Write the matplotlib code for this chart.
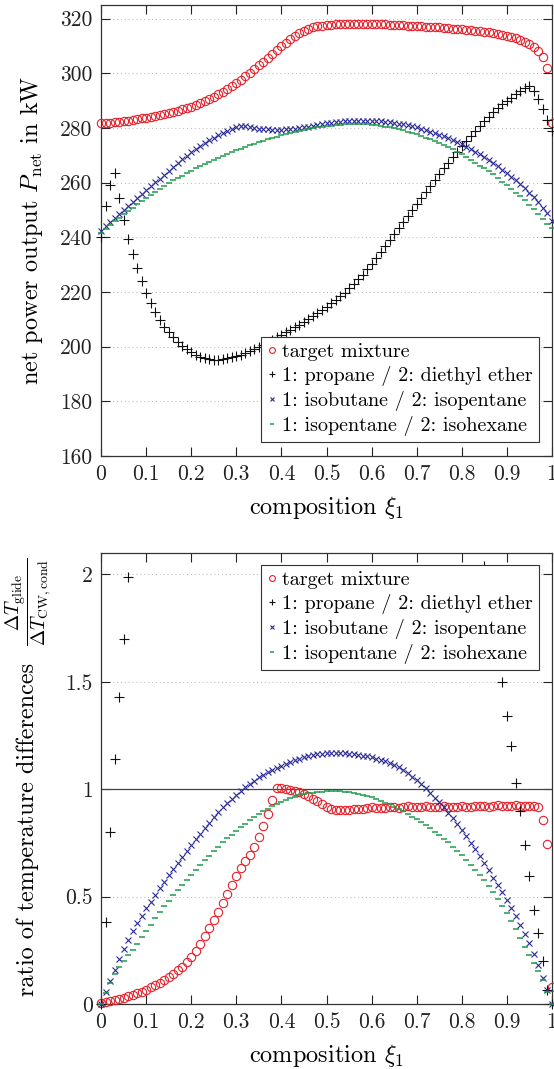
import numpy as np
import matplotlib
matplotlib.use('Agg')
import matplotlib.pyplot as plt

plt.rcParams['font.family'] = 'cmr10'
plt.rcParams['mathtext.fontset'] = 'cm'
plt.rcParams['axes.unicode_minus'] = False

# composition grid xi_1 = 0, 0.01, ..., 1
xi = np.round(np.arange(101) / 100, 2)

# ---------------- upper panel: net power output in kW ----------------
p_target = [281.8, 281.9, 282.0, 282.2, 282.3, 282.5, 282.7, 282.9, 283.2, 283.5,
            283.8, 284.1, 284.4, 284.7, 285.1, 285.5, 285.9, 286.3, 286.8, 287.3,
            287.8, 288.4, 289.1, 289.8, 290.6, 291.4, 292.3, 293.3, 294.3, 295.4,
            296.5, 297.7, 298.9, 300.2, 301.5, 302.9, 304.3, 305.7, 307.1, 308.5,
            309.9, 311.2, 312.5, 313.6, 314.6, 315.5, 316.2, 316.8, 317.2, 317.5,
            317.7, 317.8, 317.9, 318.0, 318.0, 318.0, 318.0, 318.0, 318.0, 318.0,
            318.0, 318.0, 317.9, 317.9, 317.8, 317.8, 317.7, 317.6, 317.5, 317.4,
            317.3, 317.2, 317.1, 317.0, 316.9, 316.8, 316.7, 316.6, 316.4, 316.3,
            316.1, 316.0, 315.8, 315.6, 315.4, 315.2, 315.0, 314.7, 314.4, 314.1,
            313.7, 313.3, 312.8, 312.2, 311.5, 310.6, 309.5, 308.0, 305.8, 302.0,
            281.8]
p_prop_dee = [240.0, 251.5, 259.0, 263.5, 254.5, 246.5, 239.5, 233.8, 228.8, 224.0,
              219.8, 216.0, 212.7, 209.8, 207.3, 205.2, 203.4, 201.8, 200.3, 199.1,
              198.0, 197.1, 196.4, 195.9, 195.5, 195.3, 195.3, 195.4, 195.7, 196.1,
              196.6, 197.1, 197.7, 198.4, 199.1, 199.9, 200.7, 201.6, 202.5, 203.4,
              204.4, 205.3, 206.2, 207.1, 208.1, 209.1, 210.1, 211.2, 212.3, 213.4,
              214.6, 215.8, 217.1, 218.4, 219.8, 221.3, 222.9, 224.6, 226.4, 228.3,
              230.3, 232.4, 234.5, 236.7, 238.9, 241.1, 243.3, 245.5, 247.7, 249.9,
              252.1, 254.3, 256.5, 258.7, 260.9, 263.1, 265.2, 267.3, 269.4, 271.4,
              273.4, 275.3, 277.2, 279.0, 280.8, 282.5, 284.1, 285.7, 287.2, 288.6,
              289.9, 291.1, 292.3, 293.5, 294.6, 295.2, 293.5, 290.6, 287.0, 283.0,
              279.0]
p_ibut_ipen = [242.5, 244.0, 245.5, 247.0, 248.5, 250.0, 251.5, 252.9, 254.4, 255.8,
               257.3, 258.7, 260.1, 261.5, 262.9, 264.4, 265.9, 267.3, 268.6, 269.9,
               271.2, 272.4, 273.5, 274.6, 275.6, 276.5, 277.4, 278.2, 278.9, 279.6,
               280.2, 280.7, 280.6, 280.3, 280.0, 279.8, 279.6, 279.5, 279.4, 279.4,
               279.4, 279.5, 279.6, 279.8, 280.0, 280.2, 280.5, 280.8, 281.1, 281.4,
               281.7, 281.9, 282.1, 282.3, 282.4, 282.5, 282.6, 282.6, 282.6, 282.6,
               282.6, 282.5, 282.4, 282.3, 282.1, 281.9, 281.6, 281.3, 281.0, 280.6,
               280.2, 279.7, 279.2, 278.7, 278.1, 277.5, 276.9, 276.2, 275.5, 274.8,
               274.0, 273.2, 272.3, 271.4, 270.4, 269.4, 268.3, 267.2, 266.0, 264.8,
               263.5, 262.2, 260.8, 259.4, 257.9, 256.3, 254.6, 252.8, 250.9, 248.9,
               246.0]
p_ipen_ihex = [241.5, 243.0, 244.4, 245.8, 247.1, 248.4, 249.7, 250.9, 252.1, 253.3,
               254.5, 255.6, 256.7, 257.8, 258.8, 259.8, 260.8, 261.7, 262.6, 263.5,
               264.4, 265.2, 266.0, 266.8, 267.6, 268.3, 269.0, 269.7, 270.4, 271.1,
               271.8, 272.4, 273.0, 273.6, 274.2, 274.8, 275.3, 275.8, 276.3, 276.8,
               277.3, 277.7, 278.1, 278.5, 278.9, 279.3, 279.6, 279.9, 280.2, 280.5,
               280.7, 280.9, 281.1, 281.2, 281.3, 281.4, 281.4, 281.4, 281.3, 281.3,
               281.2, 281.0, 280.8, 280.5, 280.2, 279.9, 279.5, 279.1, 278.7, 278.2,
               277.7, 277.1, 276.5, 275.9, 275.2, 274.5, 273.8, 273.0, 272.2, 271.3,
               270.4, 269.4, 268.4, 267.3, 266.2, 265.3, 264.2, 263.0, 261.7, 260.4,
               259.0, 257.7, 256.4, 255.0, 253.6, 252.0, 250.3, 248.5, 246.6, 245.0,
               243.5]

# ---------------- lower panel: dT_glide / dT_CW,cond ----------------
r_target = [0.005, 0.008, 0.012, 0.018, 0.024, 0.030, 0.036, 0.043, 0.050, 0.058,
            0.067, 0.077, 0.088, 0.100, 0.112, 0.126, 0.140, 0.156, 0.173, 0.194,
            0.218, 0.248, 0.280, 0.315, 0.352, 0.390, 0.428, 0.468, 0.510, 0.553,
            0.595, 0.632, 0.665, 0.695, 0.730, 0.778, 0.830, 0.885, 0.950, 1.005,
            1.005, 1.000, 0.997, 0.992, 0.985, 0.977, 0.967, 0.955, 0.943, 0.930,
            0.918, 0.910, 0.905, 0.903, 0.903, 0.905, 0.907, 0.908, 0.910, 0.912,
            0.915, 0.913, 0.911, 0.914, 0.917, 0.915, 0.913, 0.917, 0.920, 0.918,
            0.916, 0.919, 0.921, 0.918, 0.916, 0.919, 0.922, 0.919, 0.916, 0.918,
            0.921, 0.919, 0.917, 0.920, 0.923, 0.921, 0.919, 0.922, 0.925, 0.923,
            0.921, 0.923, 0.925, 0.923, 0.922, 0.924, 0.921, 0.918, 0.855, 0.745,
            0.080]
# propane / diethyl ether leaves the plotted range between 0.06 and 0.85
r_prop_dee_x = [0.00, 0.01, 0.02, 0.03, 0.04, 0.05, 0.06,
                0.85, 0.86, 0.87, 0.88, 0.89, 0.90, 0.91, 0.92, 0.93, 0.94,
                0.95, 0.96, 0.97, 0.98, 0.99, 1.00]
r_prop_dee = [0.00, 0.38, 0.80, 1.14, 1.43, 1.70, 1.99,
              2.04, 1.92, 1.78, 1.64, 1.50, 1.34, 1.20, 1.03, 0.90, 0.74,
              0.595, 0.44, 0.33, 0.20, 0.065, 0.00]
r_ibut_ipen = [0.000, 0.055, 0.108, 0.160, 0.209, 0.255, 0.298, 0.338, 0.376, 0.411,
               0.445, 0.477, 0.508, 0.539, 0.570, 0.600, 0.629, 0.657, 0.685, 0.713,
               0.740, 0.767, 0.793, 0.819, 0.845, 0.870, 0.893, 0.915, 0.935, 0.955,
               0.975, 0.992, 1.009, 1.025, 1.040, 1.055, 1.068, 1.080, 1.091, 1.101,
               1.110, 1.119, 1.127, 1.135, 1.142, 1.149, 1.154, 1.159, 1.162, 1.165,
               1.167, 1.168, 1.168, 1.168, 1.167, 1.165, 1.163, 1.160, 1.157, 1.153,
               1.148, 1.143, 1.137, 1.130, 1.122, 1.113, 1.102, 1.089, 1.075, 1.059,
               1.042, 1.024, 1.004, 0.983, 0.961, 0.939, 0.915, 0.890, 0.864, 0.838,
               0.810, 0.781, 0.751, 0.720, 0.688, 0.655, 0.622, 0.588, 0.554, 0.520,
               0.485, 0.448, 0.410, 0.370, 0.327, 0.282, 0.233, 0.180, 0.123, 0.063,
               0.000]
r_ipen_ihex = [0.000, 0.050, 0.098, 0.140, 0.171, 0.199, 0.226, 0.253, 0.281, 0.310,
               0.340, 0.370, 0.400, 0.428, 0.455, 0.481, 0.506, 0.530, 0.554, 0.578,
               0.602, 0.625, 0.648, 0.670, 0.691, 0.712, 0.732, 0.752, 0.771, 0.789,
               0.806, 0.823, 0.840, 0.856, 0.871, 0.885, 0.898, 0.910, 0.921, 0.932,
               0.942, 0.951, 0.959, 0.966, 0.972, 0.977, 0.981, 0.984, 0.987, 0.989,
               0.990, 0.991, 0.991, 0.990, 0.989, 0.987, 0.984, 0.980, 0.975, 0.969,
               0.962, 0.955, 0.947, 0.938, 0.929, 0.919, 0.908, 0.897, 0.885, 0.873,
               0.860, 0.847, 0.833, 0.818, 0.803, 0.787, 0.770, 0.752, 0.733, 0.713,
               0.692, 0.670, 0.647, 0.624, 0.600, 0.578, 0.549, 0.520, 0.490, 0.457,
               0.424, 0.385, 0.347, 0.305, 0.265, 0.228, 0.190, 0.152, 0.110, 0.058,
               0.000]

labels = ['target mixture', '1: propane / 2: diethyl ether',
          '1: isobutane / 2: isopentane', '1: isopentane / 2: isohexane']
xtick_vals = [0, 0.1, 0.2, 0.3, 0.4, 0.5, 0.6, 0.7, 0.8, 0.9, 1.0]
xtick_labels = ['0', '0.1', '0.2', '0.3', '0.4', '0.5', '0.6', '0.7', '0.8', '0.9', '1']
p_ticks = [160, 180, 200, 220, 240, 260, 280, 300, 320]
r_ticks = [0, 0.5, 1, 1.5, 2]
r_tick_labels = ['0', '0.5', '1', '1.5', '2']

RED, BLACK, BLUE, GREEN = '#e8202a', '#111111', '#2a2a98', '#1e9a4c'
W, H = 554, 1069


def draw_series(ax, red, bx, by, blue, green):
    ax.plot(xi, red, ls='none', marker='o', ms=6, mfc='none', mec=RED, mew=0.8,
            clip_on=False, label=labels[0], zorder=3)
    ax.plot(bx, by, ls='none', marker='+', ms=6.5, mec=BLACK, mew=0.8,
            clip_on=False, label=labels[1], zorder=3)
    ax.plot(xi, blue, ls='none', marker='x', ms=3.8, mec=BLUE, mew=0.8,
            clip_on=False, label=labels[2], zorder=3)
    ax.plot(xi, green, ls='none', marker='_', ms=5, mec=GREEN, mew=1.1,
            clip_on=False, label=labels[3], zorder=3)


def style_axes(ax):
    ax.set_xlim(0, 1)
    ax.set_xticks(xtick_vals)
    ax.set_xticklabels(xtick_labels)
    ax.tick_params(direction='in', top=True, right=True, length=6.5, width=0.8,
                   labelsize=15.5, pad=6, colors='#222222')
    for s in ax.spines.values():
        s.set_linewidth(0.9)
        s.set_color('#333333')
    ax.yaxis.grid(True, ls=(0, (1, 3)), color='#b5b5b5', lw=0.7)
    ax.set_axisbelow(True)
    ax.set_xlabel(r'composition $\xi_1$', fontsize=17.5)
    ax.xaxis.set_label_coords(0.5, -0.085)


fig = plt.figure(figsize=(W / 100, H / 100), dpi=100)
ax1 = fig.add_axes([101 / W, 1 - 456 / H, 451 / W, 451 / H])
ax2 = fig.add_axes([101 / W, 1 - 1004 / H, 451 / W, 451 / H])

draw_series(ax1, p_target, xi, p_prop_dee, p_ibut_ipen, p_ipen_ihex)
style_axes(ax1)
ax1.set_ylim(160, 325)
ax1.set_yticks(p_ticks)
ax1.set_ylabel(r'net power output $P_\mathrm{net}$ in kW', fontsize=17.5)
ax1.yaxis.set_label_coords(-0.125, 0.5)

ax2.axhline(1, color='#444444', lw=0.9, zorder=2)
draw_series(ax2, r_target, r_prop_dee_x, r_prop_dee, r_ibut_ipen, r_ipen_ihex)
style_axes(ax2)
ax2.set_ylim(0, 2.1)
ax2.set_yticks(r_ticks)
ax2.set_yticklabels(r_tick_labels)
# y label of the lower panel: words plus a stacked fraction on top
fig.text(28 / W, 1 - 829 / H, 'ratio of temperature differences', rotation=90,
         ha='center', va='center', fontsize=17.5)
fig.text(28 / W, 1 - 602 / H,
         r'$\dfrac{\Delta T_\mathrm{glide}}{\Delta T_\mathrm{CW,cond}}$',
         rotation=90, ha='center', va='center', fontsize=14)

leg_kw = dict(fontsize=14.5, frameon=True, fancybox=False, framealpha=1,
              edgecolor='#333333', markerscale=0.7, handlelength=0.5,
              handletextpad=0.25, borderpad=0.3, labelspacing=0.25, borderaxespad=0)
lg1 = ax1.legend(loc='lower right', bbox_to_anchor=(0.971, 0.031), **leg_kw)
lg2 = ax2.legend(loc='upper right', bbox_to_anchor=(0.971, 0.973), **leg_kw)
for lg in (lg1, lg2):
    lg.get_frame().set_linewidth(0.8)
    lg.set_zorder(5)

fig.savefig('out.png', dpi=100)
